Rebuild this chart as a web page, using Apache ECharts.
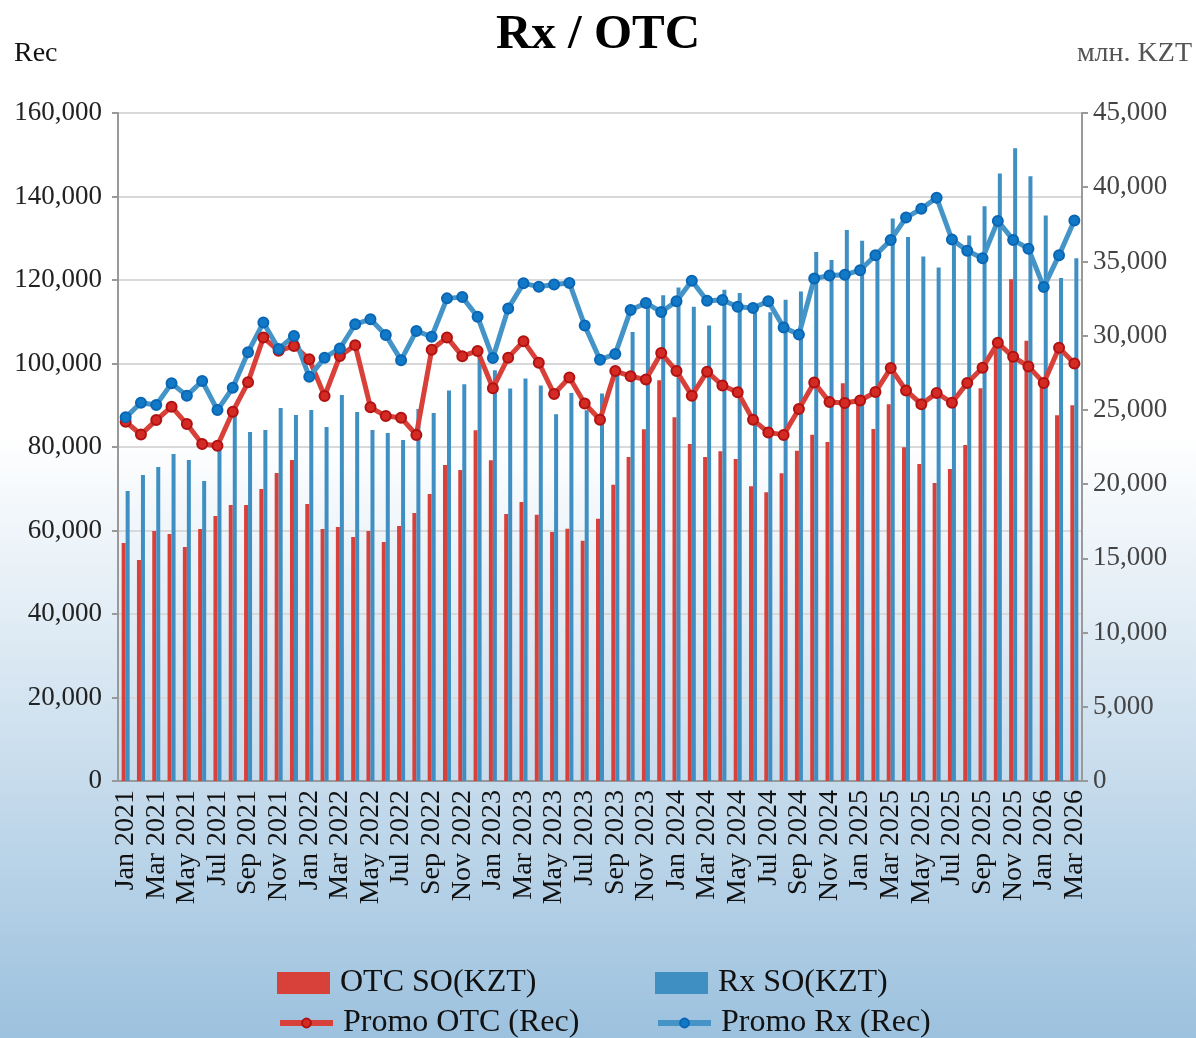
<!DOCTYPE html>
<html>
<head>
<meta charset="utf-8">
<title>Rx / OTC</title>
<script src="https://cdn.jsdelivr.net/npm/echarts@6/dist/echarts.min.js"></script>
<style>
html,body{margin:0;padding:0;}
#chart{width:1196px;height:1038px;}
</style>
</head>
<body>
<div id="chart"></div>
<script>
var months = [
	'Jan 2021','Feb 2021','Mar 2021','Apr 2021','May 2021','Jun 2021','Jul 2021','Aug 2021','Sep 2021','Oct 2021','Nov 2021','Dec 2021',
	'Jan 2022','Feb 2022','Mar 2022','Apr 2022','May 2022','Jun 2022','Jul 2022','Aug 2022','Sep 2022','Oct 2022','Nov 2022','Dec 2022',
	'Jan 2023','Feb 2023','Mar 2023','Apr 2023','May 2023','Jun 2023','Jul 2023','Aug 2023','Sep 2023','Oct 2023','Nov 2023','Dec 2023',
	'Jan 2024','Feb 2024','Mar 2024','Apr 2024','May 2024','Jun 2024','Jul 2024','Aug 2024','Sep 2024','Oct 2024','Nov 2024','Dec 2024',
	'Jan 2025','Feb 2025','Mar 2025','Apr 2025','May 2025','Jun 2025','Jul 2025','Aug 2025','Sep 2025','Oct 2025','Nov 2025','Dec 2025',
	'Jan 2026','Feb 2026','Mar 2026'
];

// млн. KZT (right axis)
var otcSO = [
	16030,14890,16840,16640,15760,16980,17850,18590,18590,19670,20750,21630,
	18660,16980,17110,16440,16840,16100,17180,18060,19340,21290,20950,23630,
	21610,17990,18800,17940,16780,16990,16180,17660,19950,21820,23690,27000,
	24500,22700,21820,22220,21690,19850,19460,20740,22240,23320,22830,26800,
	25350,23710,25380,22490,21360,20080,21020,22640,26460,29400,33800,29660,
	26600,24640,25320
];
var rxSO = [
	19540,20620,21150,22030,21630,20210,22500,24660,23510,23650,25130,24660,
	24990,23850,26000,24860,23650,23450,22970,25060,24790,26310,26720,28900,
	27670,26440,27110,26650,24710,26130,24970,26100,27550,30250,32020,32720,
	33250,31950,30680,33100,32870,31550,31580,32420,32980,35640,35100,37110,
	36400,35370,37900,36640,35340,34600,36780,36750,38720,40930,42630,40740,
	38100,33890,35210
];

// Rec (left axis)
var promoOTC = [
	86050,83000,86450,89650,85500,80700,80300,88450,95500,106200,103050,104200,
	101000,92200,101800,104400,89500,87400,87000,82900,103300,106250,101750,103000,
	94100,101400,105350,100200,92700,96650,90400,86550,98200,96950,96150,102500,
	98200,92300,98050,94750,93100,86500,83500,82900,89100,95450,90750,90550,
	91150,93150,98900,93550,90250,92950,90600,95350,99000,104950,101600,99300,
	95350,103800,100000
];
var promoRx = [
	87100,90600,90050,95250,92300,95800,88850,94200,102700,109800,103500,106600,
	96800,101400,103600,109400,110600,106800,100800,107800,106400,115600,115900,111200,
	101300,113200,119200,118400,118900,119300,109100,100900,102300,112800,114500,112350,
	114900,119800,115050,115200,113600,113300,114900,108650,106950,120350,121050,121250,
	122350,125950,129600,134950,137050,139700,129700,127000,125200,134150,129600,127500,
	118300,125950,134250
];

var FONT = 'Liberation Serif';
var RED = '#d8403a';
var BLUE = '#3f8fc2';

function fmt(v){
	return v.toLocaleString('en-US');
}

// one legend per entry so the two columns line up
function legendItem(name, left, top, isLine){
	return {
		left: left,
		top: top,
		padding: 0,
		itemWidth: 53,
		itemHeight: isLine ? 11 : 22,
		icon: isLine ? undefined : 'rect',
		lineStyle: {width: 6},
		textStyle: {fontFamily: FONT, fontSize: 32, color: '#111', padding: [0, 0, 0, 5]},
		data: [name]
	};
}

var chart = echarts.init(document.getElementById('chart'));
var option = {
	backgroundColor : {
		type: 'linear', x: 0, y: 0, x2: 0, y2: 1,
		colorStops: [
			{offset: 0, color: '#ffffff'},
			{offset: 0.42, color: '#ffffff'},
			{offset: 1, color: '#9cc1de'}
		]
	},
	animation : false,
	title : {
		text: 'Rx / OTC',
		left: 'center',
		top: 6,
		textStyle: {fontFamily: FONT, fontSize: 49, fontWeight: 'bold', color: '#000'}
	},
	graphic : [
		{type: 'text', left: 14, top: 40, style: {text: 'Rec', font: '28px ' + FONT, fill: '#111'}},
		{type: 'text', right: 4, top: 40, style: {text: 'млн. KZT', font: '28px ' + FONT, fill: '#555'}}
	],
	legend : [
		legendItem('OTC SO(KZT)', 277, 967, false),
		legendItem('Rx SO(KZT)', 655, 967, false),
		legendItem('Promo OTC (Rec)', 277, 1007, true),
		legendItem('Promo Rx (Rec)', 655, 1007, true)
	],
	grid : {left: 118, right: 114, top: 113, bottom: 257},
	xAxis : [
		{
			type: 'category',
			data: months,
			boundaryGap: true,
			axisLine: {lineStyle: {color: '#999', width: 2}},
			axisTick: {interval: 1, length: 8, lineStyle: {color: '#999', width: 2}},
			axisLabel: {interval: 1, rotate: 90, margin: 9, fontFamily: FONT, fontSize: 28, color: '#111'}
		}
	],
	yAxis : [
		{
			type: 'value',
			min: 0,
			max: 160000,
			interval: 20000,
			axisLine: {show: true, lineStyle: {color: '#999', width: 2}},
			axisTick: {show: true, length: 6, lineStyle: {color: '#999', width: 2}},
			axisLabel: {margin: 16, fontFamily: FONT, fontSize: 27, color: '#222', formatter: fmt},
			splitLine: {lineStyle: {color: '#d9d9d9', width: 2}}
		},
		{
			type: 'value',
			min: 0,
			max: 45000,
			interval: 5000,
			axisLine: {show: true, lineStyle: {color: '#999', width: 2}},
			axisTick: {show: true, length: 6, lineStyle: {color: '#999', width: 2}},
			axisLabel: {margin: 11, fontFamily: FONT, fontSize: 27, color: '#444', formatter: fmt},
			splitLine: {show: false}
		}
	],
	series : [
		{
			name: 'OTC SO(KZT)',
			type: 'bar',
			yAxisIndex: 1,
			data: otcSO,
			barWidth: 4,
			barGap: '0%',
			itemStyle: {color: RED}
		},
		{
			name: 'Rx SO(KZT)',
			type: 'bar',
			yAxisIndex: 1,
			data: rxSO,
			barWidth: 4,
			barGap: '0%',
			itemStyle: {color: BLUE}
		},
		{
			name: 'Promo OTC (Rec)',
			type: 'line',
			yAxisIndex: 0,
			data: promoOTC,
			symbol: 'circle',
			symbolSize: 10,
			lineStyle: {color: RED, width: 5},
			itemStyle: {color: '#d42a24', borderColor: '#b01212', borderWidth: 2}
		},
		{
			name: 'Promo Rx (Rec)',
			type: 'line',
			yAxisIndex: 0,
			data: promoRx,
			symbol: 'circle',
			symbolSize: 10,
			lineStyle: {color: '#4494c8', width: 5},
			itemStyle: {color: '#1279c6', borderColor: '#0a66b4', borderWidth: 2}
		}
	]
};
chart.setOption(option);
</script>
</body>
</html>
